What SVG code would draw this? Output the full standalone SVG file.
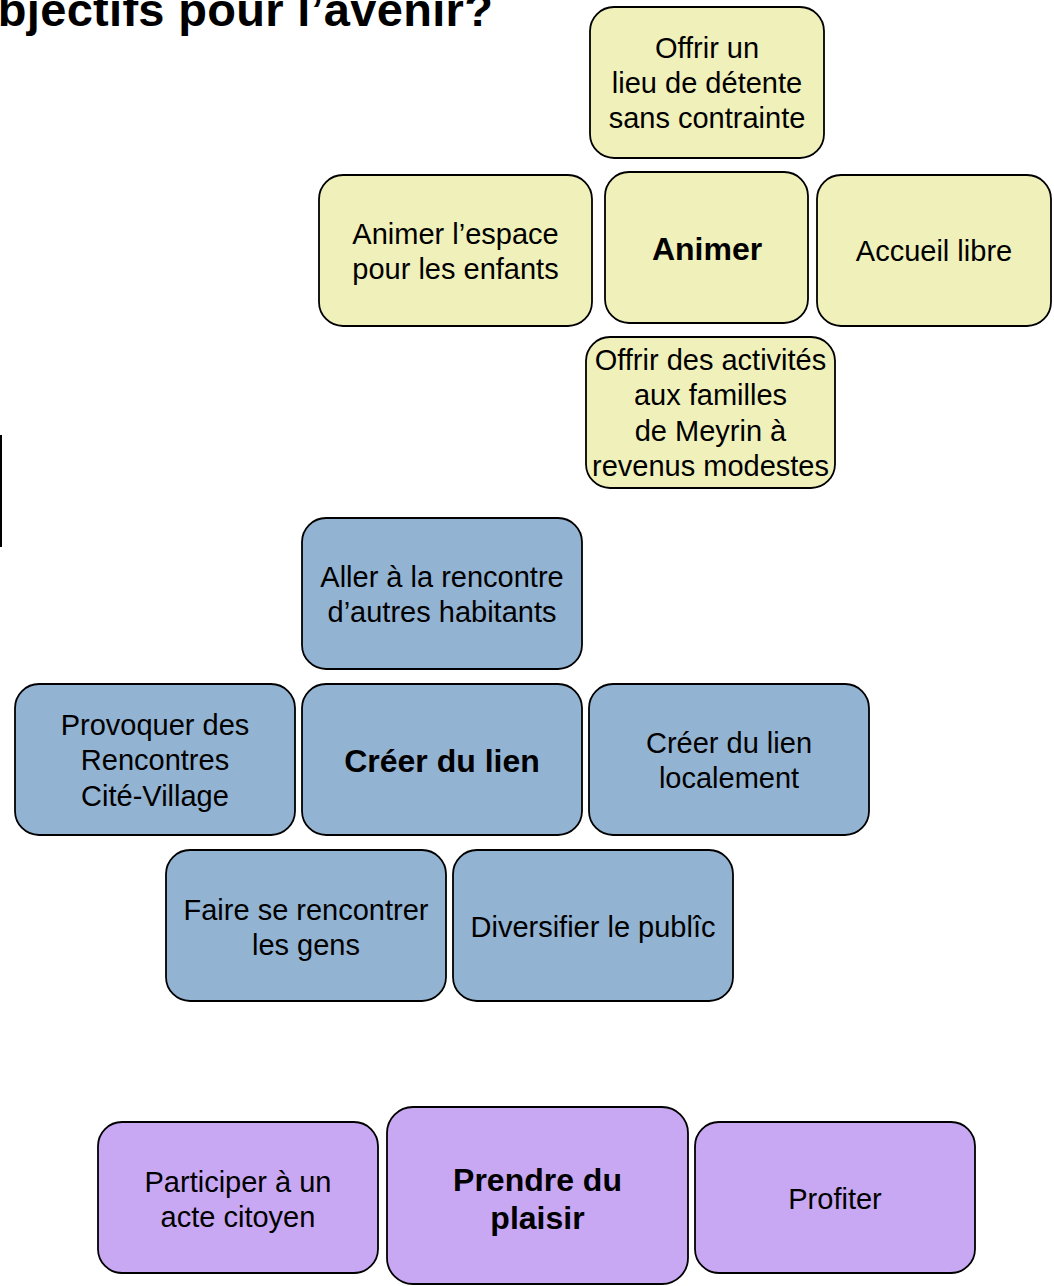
<svg xmlns="http://www.w3.org/2000/svg" width="1054" height="1286" viewBox="0 0 1054 1286">
<style>
  .box { stroke: #000; stroke-width: 1.8; }
  .y { fill: #F0F0BA; }
  .b { fill: #93B3D2; }
  .p { fill: #C8A8F2; }
  text { font-family: "Liberation Sans", Arial, sans-serif; fill: #000; text-anchor: middle; }
  .t { font-size: 29px; }
  .bt { font-size: 32px; font-weight: bold; }
  .title { font-size: 47px; font-weight: bold; text-anchor: start; letter-spacing: 0.3px; }
</style>
<rect width="1054" height="1286" fill="#fff"/>
<text class="title" x="-39" y="26">Objectifs pour l’avenir?</text>
<line x1="1" y1="435" x2="1" y2="547" stroke="#000" stroke-width="2"/>
<g id="connectors"></g>

<g id="n1"><rect class="box y" x="590" y="7" width="234" height="151" rx="24"/>
<text class="t" x="707" y="58">Offrir un</text><text class="t" x="707" y="93">lieu de détente</text><text class="t" x="707" y="128">sans contrainte</text></g>
<g id="n2"><rect class="box y" x="319" y="175" width="273" height="151" rx="24"/>
<text class="t" x="455.5" y="243.5">Animer l’espace</text><text class="t" x="455.5" y="278.5">pour les enfants</text></g>
<g id="n3"><rect class="box y" x="605" y="172" width="203" height="151" rx="24"/>
<text class="bt" x="707" y="260">Animer</text></g>
<g id="n4"><rect class="box y" x="817" y="175" width="234" height="151" rx="24"/>
<text class="t" x="934" y="261">Accueil libre</text></g>
<g id="n5"><rect class="box y" x="586" y="337" width="249" height="151" rx="24"/>
<text class="t" x="710.5" y="369.5">Offrir des activités</text><text class="t" x="710.5" y="405">aux familles</text><text class="t" x="710.5" y="440.5">de Meyrin à</text><text class="t" x="710.5" y="475.5">revenus modestes</text></g>

<g id="n6"><rect class="box b" x="302" y="518" width="280" height="151" rx="24"/>
<text class="t" x="442" y="587">Aller à la rencontre</text><text class="t" x="442" y="622">d’autres habitants</text></g>
<g id="n7"><rect class="box b" x="15" y="684" width="280" height="151" rx="24"/>
<text class="t" x="155" y="735">Provoquer des</text><text class="t" x="155" y="770">Rencontres</text><text class="t" x="155" y="805.5">Cité-Village</text></g>
<g id="n8"><rect class="box b" x="302" y="684" width="280" height="151" rx="24"/>
<text class="bt" x="442" y="772">Créer du lien</text></g>
<g id="n9"><rect class="box b" x="589" y="684" width="280" height="151" rx="24"/>
<text class="t" x="729" y="753">Créer du lien</text><text class="t" x="729" y="788">localement</text></g>
<g id="n10"><rect class="box b" x="166" y="850" width="280" height="151" rx="24"/>
<text class="t" x="306" y="920">Faire se rencontrer</text><text class="t" x="306" y="955">les gens</text></g>
<g id="n11"><rect class="box b" x="453" y="850" width="280" height="151" rx="24"/>
<text class="t" x="593" y="937">Diversifier le publîc</text></g>

<g id="n12"><rect class="box p" x="98" y="1122" width="280" height="151" rx="24"/>
<text class="t" x="238" y="1192">Participer à un</text><text class="t" x="238" y="1227">acte citoyen</text></g>
<g id="n13"><rect class="box p" x="387" y="1107" width="301" height="177" rx="26"/>
<text class="bt" x="537.5" y="1191">Prendre du</text><text class="bt" x="537.5" y="1229">plaisir</text></g>
<g id="n14"><rect class="box p" x="695" y="1122" width="280" height="151" rx="24"/>
<text class="t" x="835" y="1209">Profiter</text></g>
</svg>
